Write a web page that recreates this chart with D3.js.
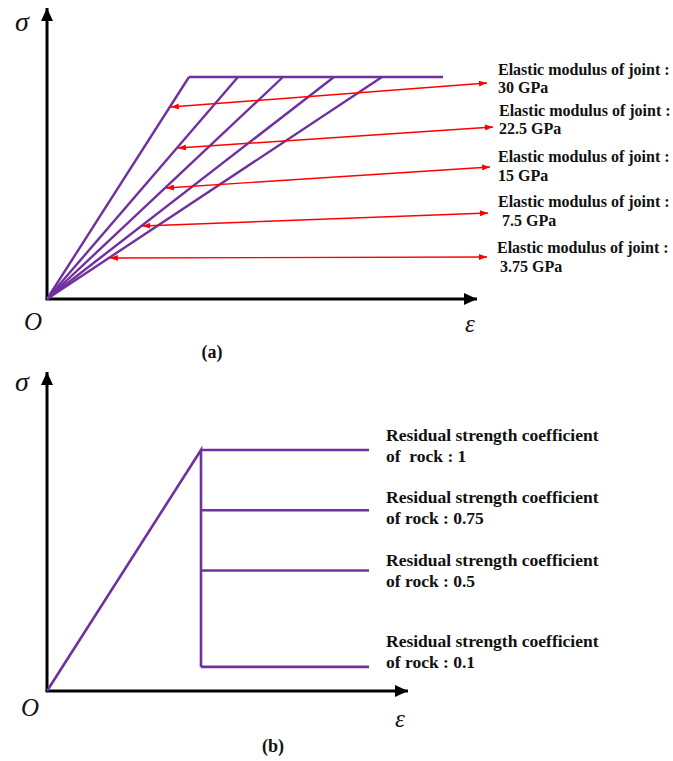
<!DOCTYPE html>
<html>
<head>
<meta charset="utf-8">
<script src="https://cdn.jsdelivr.net/npm/d3@7"></script>
<style>
  html, body { margin: 0; padding: 0; background: #fff; }
  svg { display: block; }
  .lbl { font-family: "Liberation Serif", "Times New Roman", serif; font-weight: bold; fill: #111; white-space: pre; }
  .sym { font-family: "Liberation Serif", "Times New Roman", serif; font-style: italic; fill: #111; }
</style>
</head>
<body>
<script>
// ---- Panel (a): joint elastic modulus ----
const jointModulus = [30, 22.5, 15, 7.5, 3.75];          // GPa
const peakStrainA  = [1.42, 1.91, 2.36, 2.87, 3.35];     // strain at peak, per curve
const peakStressA  = 2.22;                               // common peak stress
const plateauEndA  = 3.96;                               // end of the plastic plateau
const pointerStressA = [1.92, 1.51, 1.11, 0.73, 0.41];   // where each pointer meets its curve
const modulusLabels = jointModulus.map(v => v + " GPa");

// ---- Panel (b): residual strength coefficient ----
const residualCoef = [1, 0.75, 0.5, 0.1];
const peakStrainB  = 1.54;
const peakStressB  = 2.41;
const plateauEndB  = 3.22;
const residualLabels = ["of  rock : 1", "of rock : 0.75", "of rock : 0.5", "of rock : 0.1"];

const W = 673, H = 761;
const PURPLE = "#7030a0", RED = "#ff0000";

const svg = d3.select("body").append("svg").attr("width", W).attr("height", H);

const defs = svg.append("defs");
function triMarker(id, color, len, wid) {
  defs.append("marker").attr("id", id)
    .attr("markerUnits", "userSpaceOnUse")
    .attr("viewBox", `0 0 ${len} ${wid}`)
    .attr("refX", len).attr("refY", wid / 2)
    .attr("markerWidth", len).attr("markerHeight", wid)
    .attr("orient", "auto-start-reverse")
    .append("path").attr("d", `M0,0L${len},${wid / 2}L0,${wid}Z`).attr("fill", color);
}
triMarker("axisHead", "#000", 13, 12);
triMarker("redHead", RED, 8, 6);

const line = d3.line();

function axes(g, x, y, xMax, yMax) {
  g.append("path").attr("d", line([[x(0), y(0)], [x(0), y(yMax)]]))
    .attr("stroke", "#000").attr("stroke-width", 3).attr("fill", "none")
    .attr("marker-end", "url(#axisHead)");
  g.append("path").attr("d", line([[x(0) - 1.5, y(0)], [x(xMax), y(0)]]))
    .attr("stroke", "#000").attr("stroke-width", 3).attr("fill", "none")
    .attr("marker-end", "url(#axisHead)");
}

// ================= Panel (a) =================
const xa = d3.scaleLinear().domain([0, 4.30]).range([47, 477]);
const ya = d3.scaleLinear().domain([0, 2.91]).range([299, 8]);
const ga = svg.append("g");
axes(ga, xa, ya, 4.30, 2.91);

// plateau then rising branches
ga.append("path")
  .attr("d", line([[xa(peakStrainA[0]), ya(peakStressA)], [xa(plateauEndA), ya(peakStressA)]]))
  .attr("stroke", PURPLE).attr("stroke-width", 2.4).attr("fill", "none");
ga.selectAll("path.branch").data(peakStrainA).join("path").attr("class", "branch")
  .attr("d", e => line([[xa(0), ya(0)], [xa(e), ya(peakStressA)]]))
  .attr("stroke", PURPLE).attr("stroke-width", 2.4).attr("fill", "none");

// labels
const labelA = [
  { x: 498, y: 75,  x2: 498, dy: 18, ax: 487, ay: 83 },
  { x: 499, y: 116, x2: 499, dy: 18, ax: 493, ay: 127 },
  { x: 498, y: 162, x2: 498, dy: 19, ax: 490, ay: 167 },
  { x: 498, y: 207, x2: 502, dy: 19, ax: 488, ay: 213 },
  { x: 497, y: 253, x2: 500, dy: 19, ax: 487, ay: 257 }
];
labelA.forEach((p, i) => {
  ga.append("text").attr("class", "lbl").attr("x", p.x).attr("y", p.y)
    .attr("font-size", 16).text("Elastic modulus of joint :");
  ga.append("text").attr("class", "lbl").attr("x", p.x2).attr("y", p.y + p.dy)
    .attr("font-size", 16).text(modulusLabels[i]);
  const s = pointerStressA[i];
  const e = peakStrainA[i] * s / peakStressA;
  ga.append("path").attr("d", line([[xa(e) + 1, ya(s)], [p.ax, p.ay]]))
    .attr("stroke", RED).attr("stroke-width", 1.4).attr("fill", "none")
    .attr("marker-start", "url(#redHead)").attr("marker-end", "url(#redHead)");
});

ga.append("text").attr("class", "sym").attr("x", 22).attr("y", 31).attr("text-anchor", "middle").attr("font-size", 28).text("σ");
ga.append("text").attr("class", "sym").attr("x", 33).attr("y", 330).attr("text-anchor", "middle").attr("font-size", 25).text("O");
ga.append("text").attr("class", "sym").attr("x", 470).attr("y", 332).attr("text-anchor", "middle").attr("font-size", 25).text("ε");
ga.append("text").attr("class", "lbl").attr("x", 212).attr("y", 358).attr("text-anchor", "middle").attr("font-size", 18).text("(a)");

// ================= Panel (b) =================
const xb = d3.scaleLinear().domain([0, 3.61]).range([47, 408]);
const yb = d3.scaleLinear().domain([0, 3.19]).range([691, 372]);
const gb = svg.append("g");
axes(gb, xb, yb, 3.61, 3.19);

const minCoef = d3.min(residualCoef);
gb.append("path")
  .attr("d", line([[xb(0), yb(0)], [xb(peakStrainB), yb(peakStressB)], [xb(peakStrainB), yb(peakStressB * minCoef)]]))
  .attr("stroke", PURPLE).attr("stroke-width", 2.6).attr("fill", "none").attr("stroke-linejoin", "miter");
gb.selectAll("path.resid").data(residualCoef).join("path").attr("class", "resid")
  .attr("d", c => line([[xb(peakStrainB), yb(peakStressB * c)], [xb(plateauEndB), yb(peakStressB * c)]]))
  .attr("stroke", PURPLE).attr("stroke-width", 2.6).attr("fill", "none");

const labelB = [441, 503, 566, 647];
labelB.forEach((y, i) => {
  gb.append("text").attr("class", "lbl").attr("x", 386).attr("y", y)
    .attr("font-size", 17.5).text("Residual strength coefficient");
  gb.append("text").attr("class", "lbl").attr("x", 386).attr("y", y + 21)
    .attr("font-size", 17.5).text(residualLabels[i]);
});

gb.append("text").attr("class", "sym").attr("x", 22).attr("y", 391).attr("text-anchor", "middle").attr("font-size", 28).text("σ");
gb.append("text").attr("class", "sym").attr("x", 30).attr("y", 716).attr("text-anchor", "middle").attr("font-size", 25).text("O");
gb.append("text").attr("class", "sym").attr("x", 400).attr("y", 727).attr("text-anchor", "middle").attr("font-size", 25).text("ε");
gb.append("text").attr("class", "lbl").attr("x", 273).attr("y", 752).attr("text-anchor", "middle").attr("font-size", 18).text("(b)");
</script>
</body>
</html>
